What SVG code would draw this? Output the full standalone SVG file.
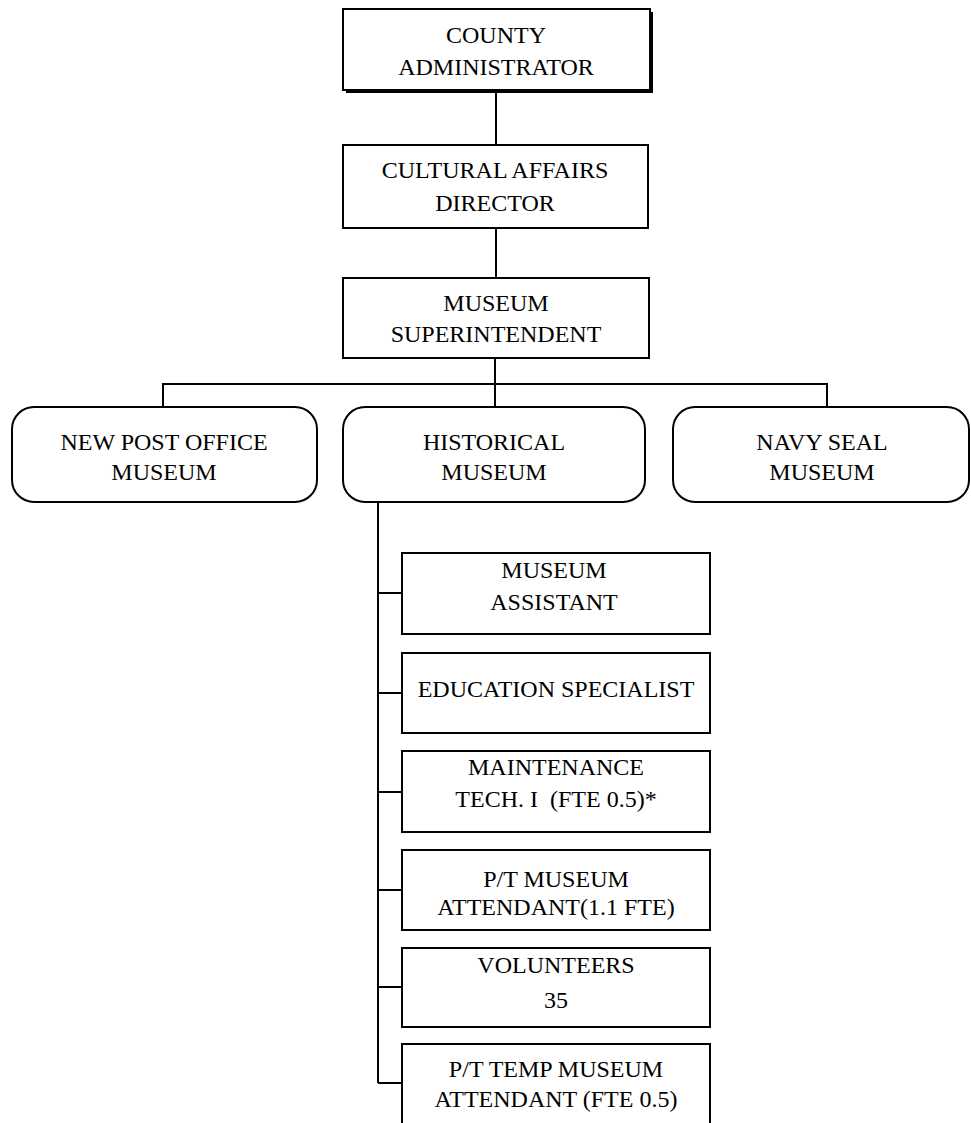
<svg xmlns="http://www.w3.org/2000/svg" width="971" height="1123" viewBox="0 0 971 1123">
  <style>
    .box { fill: #fff; stroke: #000; stroke-width: 2; }
    .shadow { fill: #000; }
    .lbl { font-family: "Liberation Serif", "Times New Roman", serif; font-size: 24px; fill: #000; text-anchor: middle; }
    .wire { fill: none; stroke: #000; stroke-width: 2; }
  </style>
  <rect width="971" height="1123" fill="#fff"/>

  <!-- reporting lines -->
  <g id="connectors">
    <path class="wire" d="M496 90 V145"/>
    <path class="wire" d="M496 228 V278"/>
    <path class="wire" d="M495 358 V407"/>
    <path class="wire" d="M163 407 V384 H827 V407"/>
    <path class="wire" d="M378 502 V1083"/>
    <path class="wire" d="M378 593 H402 M378 693 H402 M378 792 H402 M378 890 H402 M378 987 H402 M378 1083 H402"/>
  </g>

  <g id="county-administrator">
    <rect class="shadow" x="346" y="12" width="307" height="81"/>
    <rect class="box" x="343" y="9" width="307" height="81"/>
    <text class="lbl" x="496" y="43">COUNTY</text>
    <text class="lbl" x="496" y="75">ADMINISTRATOR</text>
  </g>

  <g id="cultural-affairs-director">
    <rect class="box" x="343" y="145" width="305" height="83"/>
    <text class="lbl" x="495" y="178">CULTURAL AFFAIRS</text>
    <text class="lbl" x="495" y="211">DIRECTOR</text>
  </g>

  <g id="museum-superintendent">
    <rect class="box" x="343" y="278" width="306" height="80"/>
    <text class="lbl" x="496" y="311">MUSEUM</text>
    <text class="lbl" x="496" y="342">SUPERINTENDENT</text>
  </g>

  <g id="new-post-office-museum">
    <rect class="box" x="12" y="407" width="305" height="95" rx="22" ry="22"/>
    <text class="lbl" x="164" y="450">NEW POST OFFICE</text>
    <text class="lbl" x="164" y="480">MUSEUM</text>
  </g>

  <g id="historical-museum">
    <rect class="box" x="343" y="407" width="302" height="95" rx="22" ry="22"/>
    <text class="lbl" x="494" y="450">HISTORICAL</text>
    <text class="lbl" x="494" y="480">MUSEUM</text>
  </g>

  <g id="navy-seal-museum">
    <rect class="box" x="673" y="407" width="296" height="95" rx="22" ry="22"/>
    <text class="lbl" x="822" y="450">NAVY SEAL</text>
    <text class="lbl" x="822" y="480">MUSEUM</text>
  </g>

  <g id="museum-assistant">
    <rect class="box" x="402" y="553" width="308" height="81"/>
    <text class="lbl" x="554" y="578">MUSEUM</text>
    <text class="lbl" x="554" y="610">ASSISTANT</text>
  </g>

  <g id="education-specialist">
    <rect class="box" x="402" y="653" width="308" height="80"/>
    <text class="lbl" x="556" y="697">EDUCATION SPECIALIST</text>
  </g>

  <g id="maintenance-tech">
    <rect class="box" x="402" y="751" width="308" height="81"/>
    <text class="lbl" x="556" y="775">MAINTENANCE</text>
    <text class="lbl" x="556" y="807" xml:space="preserve">TECH. I  (FTE 0.5)*</text>
  </g>

  <g id="pt-museum-attendant">
    <rect class="box" x="402" y="850" width="308" height="80"/>
    <text class="lbl" x="556" y="887">P/T MUSEUM</text>
    <text class="lbl" x="556" y="915">ATTENDANT(1.1 FTE)</text>
  </g>

  <g id="volunteers">
    <rect class="box" x="402" y="948" width="308" height="79"/>
    <text class="lbl" x="556" y="973">VOLUNTEERS</text>
    <text class="lbl" x="556" y="1008">35</text>
  </g>

  <g id="pt-temp-museum-attendant">
    <rect class="box" x="402" y="1044" width="308" height="90"/>
    <text class="lbl" x="556" y="1077">P/T TEMP MUSEUM</text>
    <text class="lbl" x="556" y="1107">ATTENDANT (FTE 0.5)</text>
  </g>
</svg>
